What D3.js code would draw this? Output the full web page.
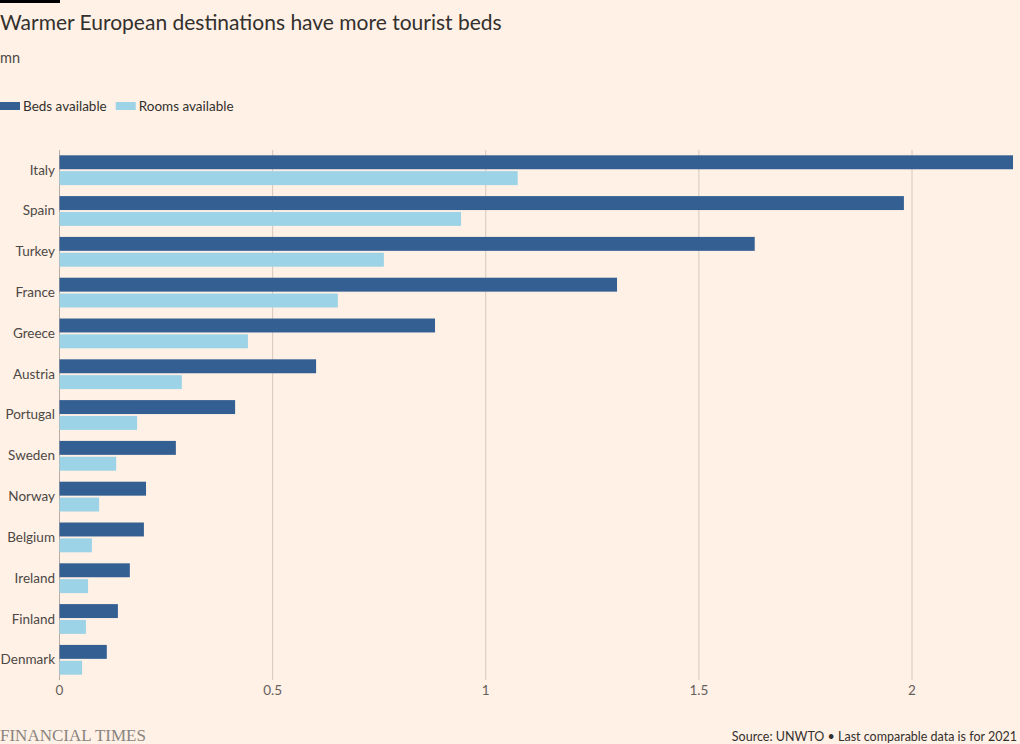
<!DOCTYPE html>
<html>
<head>
<meta charset="utf-8">
<script src="https://cdn.jsdelivr.net/npm/d3@7"></script>
<style>
  body { margin: 0; background: #fff1e5; }
  svg { display: block; }
  text { font-family: Lato, "Noto Sans", sans-serif; }
</style>
</head>
<body>
<svg id="chart" width="1020" height="744"></svg>
<script>
const countries = ["Italy", "Spain", "Turkey", "France", "Greece", "Austria", "Portugal",
  "Sweden", "Norway", "Belgium", "Ireland", "Finland", "Denmark"];
const beds = [2.237, 1.981, 1.631, 1.308, 0.881, 0.602, 0.412, 0.273, 0.203, 0.198, 0.165, 0.137, 0.111];
const rooms = [1.075, 0.942, 0.761, 0.653, 0.442, 0.287, 0.182, 0.133, 0.093, 0.076, 0.067, 0.062, 0.053];
const ticks = [0, 0.5, 1, 1.5, 2];
const seriesNames = ["Beds available", "Rooms available"];
const colors = ["#345f92", "#9dd3e6"];

const svg = d3.select("#chart");
const W = 1020;

svg.append("rect").attr("x", 0).attr("y", 0).attr("width", 60).attr("height", 3).attr("fill", "#000");

svg.append("text").attr("x", 0).attr("y", 30)
  .attr("font-size", 21).attr("fill", "#33302e")
  .text("Warmer European destinations have more tourist beds");
svg.append("text").attr("x", 0).attr("y", 63)
  .attr("font-size", 14.5).attr("fill", "#4d4845")
  .text("mn");

// legend
const legend = svg.append("g").attr("transform", "translate(0,106)");
let lx = 0;
seriesNames.forEach((name, i) => {
  legend.append("rect").attr("x", lx).attr("y", -4).attr("width", 20).attr("height", 8).attr("fill", colors[i]);
  const t = legend.append("text").attr("x", lx + 23).attr("y", 5)
    .attr("font-size", 13.5).attr("fill", "#33302e").text(name);
  lx += 23 + t.node().getComputedTextLength() + 9;
});

const x = d3.scaleLinear().domain([0, 2]).range([59.5, 912]);
const y = d3.scaleBand().domain(countries).range([150, 680]).paddingInner(0.27).paddingOuter(0.13);
const sub = d3.scaleBand().domain([0, 1]).range([0, y.bandwidth()]).paddingInner(0.12);

// grid
svg.append("g").selectAll("line").data(ticks).enter().append("line")
  .attr("x1", d => x(d)).attr("x2", d => x(d))
  .attr("y1", 150).attr("y2", 680)
  .attr("stroke", d => d === 0 ? "#b8ada5" : "#d4c9bf").attr("stroke-width", 1);

svg.append("g").selectAll("text").data(ticks).enter().append("text")
  .attr("x", d => x(d)).attr("y", 695)
  .attr("text-anchor", "middle").attr("font-size", 13.5).attr("fill", "#66605c")
  .text(d => d);

const groups = svg.append("g").selectAll("g").data(countries).enter().append("g")
  .attr("transform", d => `translate(0,${y(d)})`);

groups.append("rect").attr("class", "bar beds")
  .attr("x", x(0)).attr("y", sub(0))
  .attr("width", (d, i) => x(beds[i]) - x(0)).attr("height", sub.bandwidth())
  .attr("fill", colors[0]);
groups.append("rect").attr("class", "bar rooms")
  .attr("x", x(0)).attr("y", sub(1))
  .attr("width", (d, i) => x(rooms[i]) - x(0)).attr("height", sub.bandwidth())
  .attr("fill", colors[1]);

groups.append("text")
  .attr("x", 55).attr("y", y.bandwidth() / 2 + 4.5)
  .attr("text-anchor", "end").attr("font-size", 13.5).attr("fill", "#4d4845")
  .text(d => d);

svg.append("text").attr("x", 0).attr("y", 741)
  .style("font-family", "'Liberation Serif', serif")
  .attr("font-size", 17).attr("fill", "#8a8480")
  .text("FINANCIAL TIMES");
svg.append("text").attr("x", W - 3).attr("y", 741)
  .attr("text-anchor", "end").attr("font-size", 12.5).attr("fill", "#33302e")
  .text("Source: UNWTO \u2022 Last comparable data is for 2021");
</script>
</body>
</html>
